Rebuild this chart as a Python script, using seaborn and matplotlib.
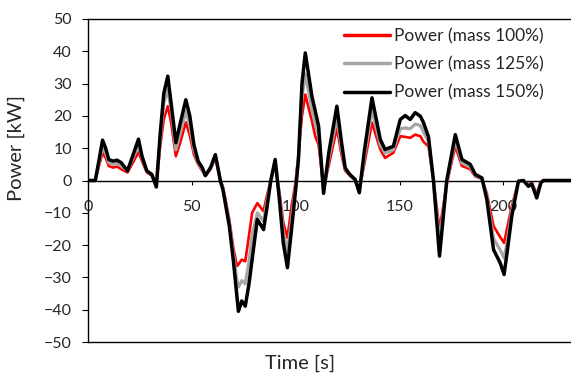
import matplotlib
matplotlib.use("Agg")
import matplotlib.pyplot as plt
import seaborn as sns
import pandas as pd

# Drive-cycle power demand for three vehicle masses
time_s = [0, 3.5, 5.5, 7, 8.5, 10, 12, 14, 16, 19, 22, 24.3, 26, 28.3, 30.7, 32.9,
          34.8, 36.5, 38.4, 40, 42.3, 44.5, 47.1, 49, 51, 53, 55, 56.5, 59, 61.3,
          62.5, 63.7, 65, 68, 70, 71.7, 72.4, 74, 75.7, 77.5, 79, 81.5, 84.5, 86,
          88, 90.1, 92, 94, 96, 98, 99.8, 101.3, 103, 104.6, 107.8, 109.4, 111,
          113.4, 116, 119.8, 122, 123.8, 126, 128.6, 130.6, 133, 136.7, 140.7, 143,
          147, 150.3, 152.7, 155.1, 157.5, 160, 161.5, 163.9, 166.3, 169.2, 172.7,
          176.8, 180, 184, 186.4, 189.6, 192, 195.2, 198.4, 200.3, 202, 204, 207.2,
          209.6, 212, 213.6, 216, 218, 219.2, 232.5]

power_100 = [0, 0, 5, 8.5, 7, 4.5, 4, 4.3, 3.5, 2.5, 6, 8.8, 6, 2.5, 1.5, -1.5,
             11, 19, 23, 18, 7.5, 12, 18, 14, 8, 5, 3, 1.5, 3.5, 7,
             4, 0, -2, -12, -21, -26.5, -26, -24.5, -25, -17, -10, -7, -9.5, -5,
             0, 5, -3, -13, -17.7, -8, -1, 8, 20, 26.6, 18.4, 13.7, 11,
             -2.5, 5, 16.3, 8, 3, 1.5, 0, -3, 5, 17.9, 9.6, 7,
             8.6, 13.7, 13.5, 13.2, 14.2, 13.7, 12, 10.5, 0, -15.2, -1,
             10.6, 4.5, 3.5, 1.2, 0.5, -4, -14.1, -17.5, -19.3, -14, -8, -0.2,
             0, -1.2, -0.8, -4, -0.5, 0, 0]

power_125 = [0, 0, 6, 10.5, 8.5, 5.5, 5, 5.3, 4.5, 3, 7.5, 11, 7, 2.8, 1.8, -1.8,
             13, 24, 28, 22, 9.5, 15, 21.5, 17, 9.5, 5.5, 3.5, 1.5, 4, 7.5,
             4, 0, -2.5, -13, -23, -31, -33, -31, -32, -25, -17, -10, -12.5, -7,
             0, 6, -4, -16, -22, -12, -2.5, 7, 26, 33, 22, 17.5, 14,
             -3, 7, 19.5, 10, 3.5, 1.8, 0, -3.5, 7, 22, 11, 8.5,
             9.5, 16, 16.3, 16, 17.5, 17, 15, 12, 0, -19, -0.5,
             12.5, 5.5, 4.2, 1.5, 0.6, -5, -18, -21.5, -24, -18, -9.5, -0.2,
             0, -1.5, -0.9, -4.7, -0.6, 0, 0]

power_150 = [0, 0, 7, 12.5, 10, 6.5, 6, 6.3, 5.5, 3, 8.5, 12.8, 7.5, 3, 1.9, -2,
             14.8, 27, 32.3, 24, 11.7, 18, 25, 20, 11, 6, 4, 1.5, 4, 8,
             4, 0, -3, -14, -25, -36, -40.5, -37.3, -38.9, -32, -24.5, -12, -15.2, -9,
             0, 6.5, -5, -19.3, -27, -15, -3.8, 6.5, 30, 39.5, 26, 21.5, 16.8,
             -4, 9, 23, 12, 3.9, 1.9, 0.3, -3.8, 9, 25.6, 12.7, 9.6,
             10.6, 18.9, 20.1, 18.9, 21, 19.9, 17.9, 13.5, 0, -23.4, 0,
             14.2, 6.5, 5, 1.9, 0.8, -5.9, -21.4, -25.5, -29.1, -21, -11, -0.2,
             0, -1.8, -1, -5.4, -0.7, 0, 0]

series_labels = ["Power (mass 100%)", "Power (mass 125%)", "Power (mass 150%)"]
y_ticks = [-50, -40, -30, -20, -10, 0, 10, 20, 30, 40, 50]
x_ticks = [0, 50, 100, 150, 200]

df = pd.DataFrame({"t": time_s, "p100": power_100, "p125": power_125, "p150": power_150})

sns.set_style("white")
plt.rcParams["font.family"] = ["Lato", "DejaVu Sans"]
plt.rcParams["text.color"] = "#262626"

fig = plt.figure(figsize=(5.71, 3.74), dpi=100)
ax = fig.add_axes([88 / 571, 32 / 374, 483 / 571, 323 / 374])

styles = [("p100", "#FF0000", 1.9), ("p125", "#A6A6A6", 2.3), ("p150", "#000000", 2.5)]
for (col, color, lw), lab in zip(styles, series_labels):
    sns.lineplot(data=df, x="t", y=col, color=color, linewidth=lw, label=lab,
                 ax=ax, zorder=3)

ax.set_xlim(0, 232.5)
ax.set_ylim(-50, 50)
ax.set_xticks(x_ticks)
ax.set_yticks(y_ticks)

# plot-area border (right side runs past the figure edge)
for side in ("left", "top"):
    ax.spines[side].set_color("#000000")
    ax.spines[side].set_linewidth(1.0)
ax.spines["right"].set_visible(False)
ax.spines["bottom"].set_position(("data", 0))
ax.spines["bottom"].set_color("#000000")
ax.spines["bottom"].set_linewidth(1.0)
ax.axhline(-50, color="#000000", linewidth=1.0, clip_on=False, zorder=2.5)

ax.tick_params(axis="y", direction="out", length=4.5, width=0.8, pad=7,
               labelsize=11.5, left=True, colors="#000000", labelcolor="#262626")
ax.tick_params(axis="x", direction="out", length=3, width=0.8, pad=11,
               labelsize=11.5, bottom=True, colors="#000000", labelcolor="#262626")

ax.set_xlabel("Time [s]", fontsize=14.5)
ax.set_ylabel("Power [kW]", fontsize=14.5)
ax.xaxis.set_label_coords(0.439, -0.04)
ax.yaxis.set_label_coords(-0.13, 0.60)

leg = ax.legend(loc="upper right", bbox_to_anchor=(0.962, 1.0), frameon=False,
                fontsize=12.5, handlelength=2.7, handletextpad=0.2,
                labelspacing=0.7, borderaxespad=0.12)
for line in leg.get_lines():
    line.set_linewidth(2.5)

fig.savefig("out.png", dpi=100, facecolor="white")
